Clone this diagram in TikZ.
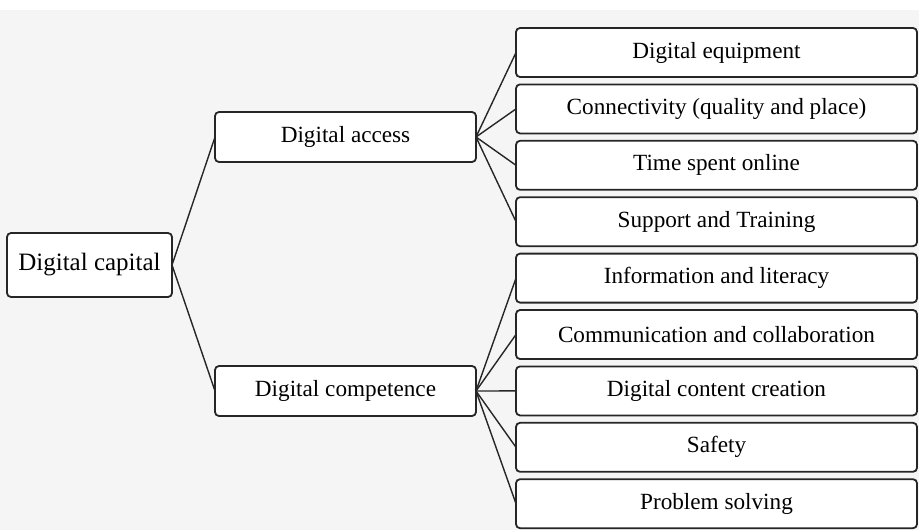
\documentclass[tikz,border=0pt]{standalone}
\usepackage{fontspec}
\setmainfont{Liberation Serif}
\usetikzlibrary{positioning}

\begin{document}
\begin{tikzpicture}[x=0.5pt, y=-0.5pt, node distance=3.7pt,
	box/.style={draw=black!85, line width=0.9pt, rounded corners=2pt, fill=white, align=center, inner sep=0pt, outer sep=0pt, font=\fontsize{11.6}{14}\selectfont},
	item/.style={box, minimum width=200.5pt, minimum height=24.5pt},
	mid/.style={box, minimum width=130.5pt, minimum height=25pt},
	link/.style={draw=black!85, line width=0.7pt}]
	% Background
	\useasboundingbox (0,0) rectangle (919,530);
	\fill [white] (0,0) rectangle (919,530);
	\fill [black!4] (0,10) rectangle (919,530);

	% Nodes {cap, acc, com, r1, r2, r3, etc}
	\node [box, minimum width=82.5pt, minimum height=32pt, font=\fontsize{12.5}{15}\selectfont]
		(cap)	at (89.5,265)	{Digital capital};
	\node [mid]	(acc)	at (345.5,137)	{Digital access};
	\node [mid]	(com)	at (345.5,391)	{Digital competence};

	\node [item]	(r1)	at (716.5,52.5)		{Digital equipment};
	\node [item]	(r2)	[below=of r1]	{Connectivity (quality and place)};
	\node [item]	(r3)	[below=of r2]	{Time spent online};
	\node [item]	(r4)	[below=of r3]	{Support and Training};
	\node [item]	(r5)	[below=of r4]	{Information and literacy};
	\node [item]	(r6)	[below=of r5]	{Communication and collaboration};
	\node [item]	(r7)	[below=of r6]	{Digital content creation};
	\node [item]	(r8)	[below=of r7]	{Safety};
	\node [item]	(r9)	[below=of r8]	{Problem solving};

	% Paths
	\path [link]	(cap.east) edge (acc.west);
	\path [link]	(cap.east) edge (com.west);

	\path [link]	(acc.east) edge (r1.west);
	\path [link]	(acc.east) edge (r2.west);
	\path [link]	(acc.east) edge (r3.west);
	\path [link]	(acc.east) edge (r4.west);

	\path [link]	(com.east) edge (r5.west);
	\path [link]	(com.east) edge (r6.west);
	\path [link]	(com.east) edge (r7.west);
	\path [link]	(com.east) edge (r8.west);
	\path [link]	(com.east) edge (r9.west);

\end{tikzpicture}
\end{document}
